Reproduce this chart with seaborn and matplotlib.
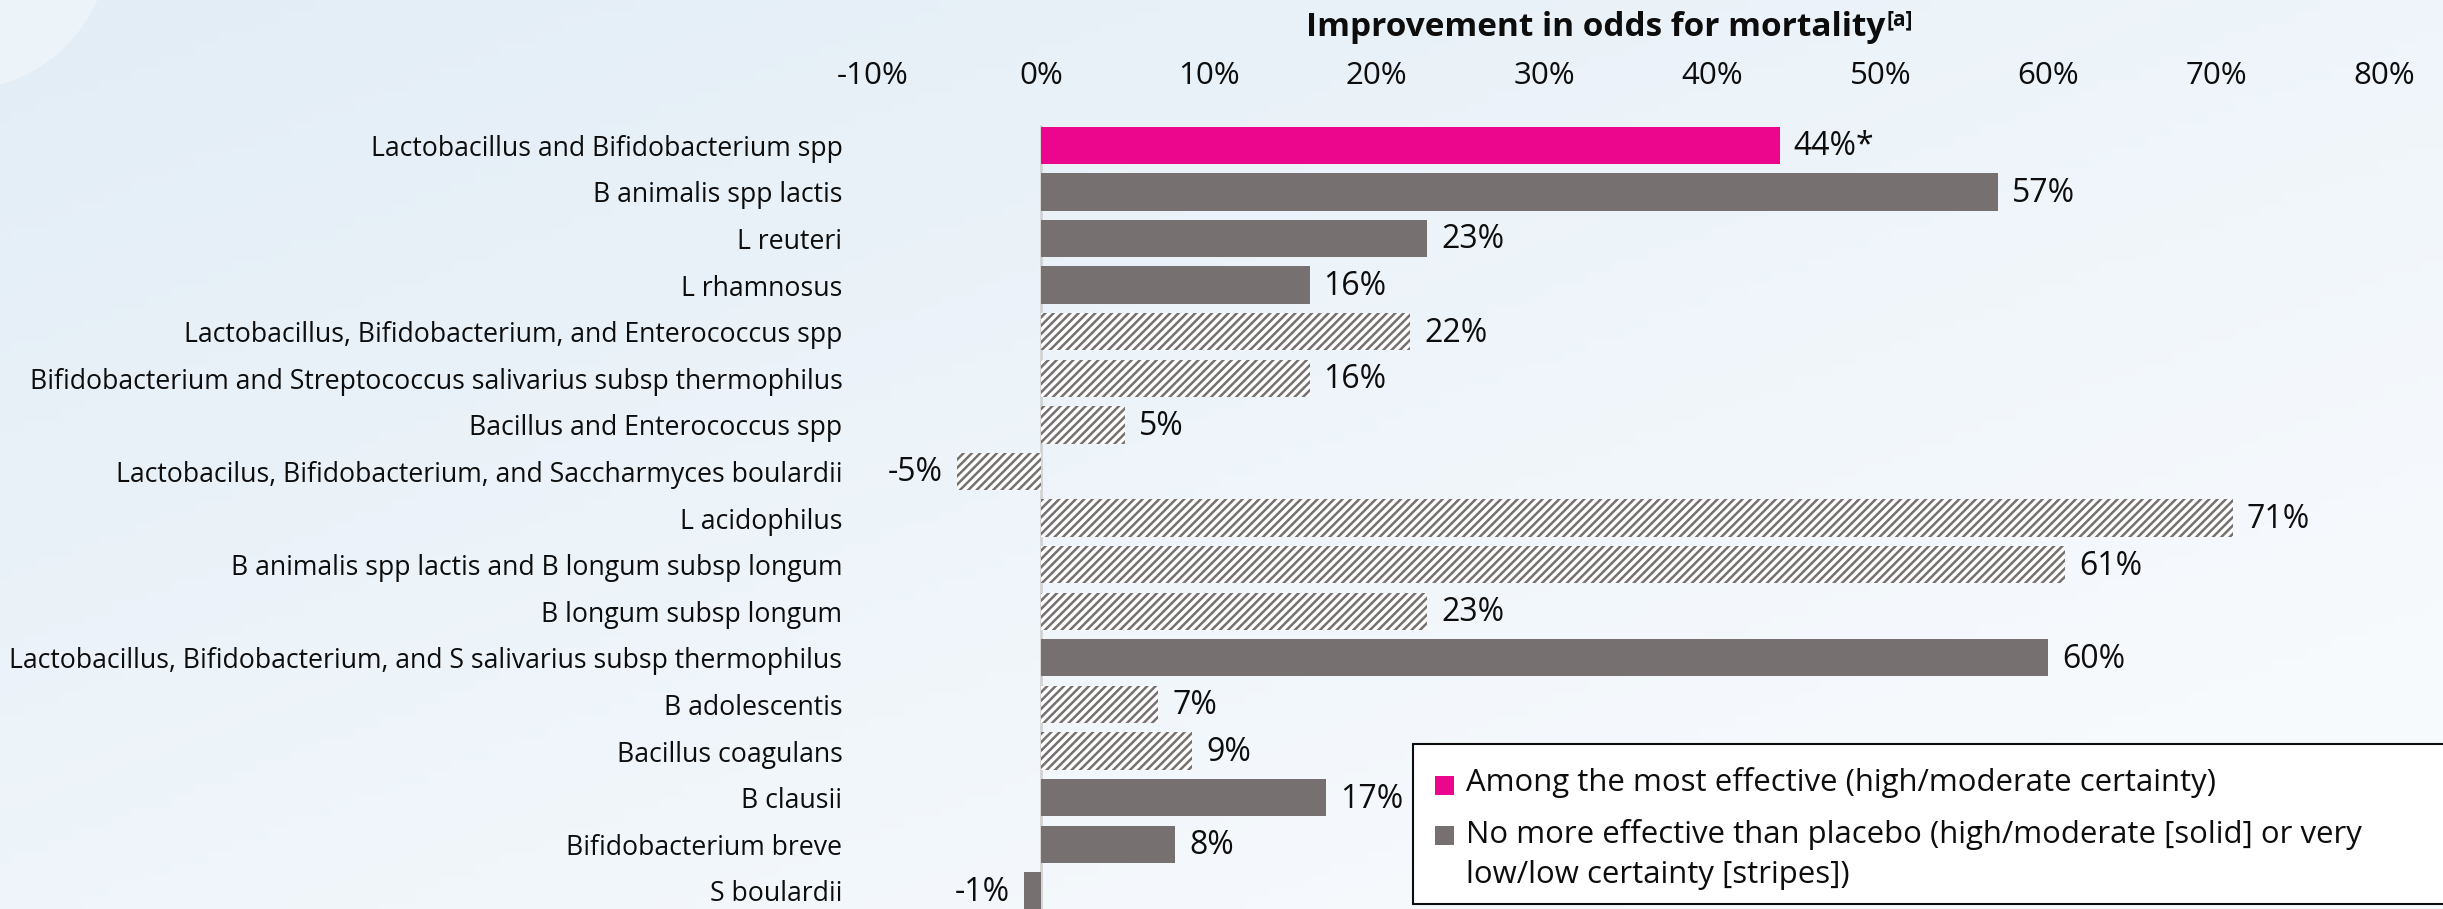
import matplotlib
matplotlib.use("Agg")
import matplotlib.pyplot as plt
import numpy as np
import pandas as pd
import seaborn as sns
from matplotlib.patches import Rectangle, Circle

# data
labels = [
    "Lactobacillus and Bifidobacterium spp",
    "B animalis spp lactis",
    "L reuteri",
    "L rhamnosus",
    "Lactobacillus, Bifidobacterium, and Enterococcus spp",
    "Bifidobacterium and Streptococcus salivarius subsp thermophilus",
    "Bacillus and Enterococcus spp",
    "Lactobacilus, Bifidobacterium, and Saccharmyces boulardii",
    "L acidophilus",
    "B animalis spp lactis and B longum subsp longum",
    "B longum subsp longum",
    "Lactobacillus, Bifidobacterium, and S salivarius subsp thermophilus",
    "B adolescentis",
    "Bacillus coagulans",
    "B clausii",
    "Bifidobacterium breve",
    "S boulardii",
]
values = [44, 57, 23, 16, 22, 16, 5, -5, 71, 61, 23, 60, 7, 9, 17, 8, -1]
effective = [True] + [False] * 16
low_certainty = [False, False, False, False, True, True, True, True, True,
                 True, True, False, True, True, False, False, False]
xticks = [-10, 0, 10, 20, 30, 40, 50, 60, 70, 80]

PINK = "#EC068D"
GRAY = "#767170"
INK = "#0D0D0D"

sns.set_theme(style="white")
plt.rcParams["font.family"] = ["Open Sans", "DejaVu Sans"]
plt.rcParams["hatch.linewidth"] = 1.8

df = pd.DataFrame({"label": labels, "value": values})
colors = [PINK if e else GRAY for e in effective]

W, H = 2443, 909
fig = plt.figure(figsize=(W / 100, H / 100), dpi=100)

# soft background gradient
bg = fig.add_axes([0, 0, 1, 1], zorder=-5)
gx = np.linspace(0, 1, 200)
gy = np.linspace(0, 1, 80)
GX, GY = np.meshgrid(gx, gy)
t = np.clip(0.6 * GX + 0.6 * GY, 0, 1)
c0 = np.array([226, 237, 246]) / 255
c1 = np.array([247, 250, 253]) / 255
img = c0[None, None, :] * (1 - t[..., None]) + c1[None, None, :] * t[..., None]
bg.imshow(img, extent=[0, W, H, 0], aspect="auto")
bg.add_patch(Circle((-40, -60), 150, color="white", alpha=0.35, lw=0))
bg.set_xlim(0, W)
bg.set_ylim(H, 0)
bg.axis("off")

left, right = 873 / W, 2384 / W
top = 1 - 122 / H
ax = fig.add_axes([left, 0, right - left, top])
ax.set_facecolor("none")

sns.barplot(data=df, x="value", y="label", hue="label", palette=colors,
            legend=False, width=0.8, ax=ax, saturation=1)

for p in ax.patches:
    i = int(round(p.get_y() + p.get_height() / 2))
    p.set_linewidth(0)
    if low_certainty[i]:
        p.set_facecolor("white")
        p.set_edgecolor(GRAY)
        p.set_hatch("////")
    v = values[i]
    txt = f"{v}%" + ("*" if effective[i] else "")
    if v >= 0:
        ax.annotate(txt, (v, i), xytext=(10, -1), textcoords="offset points",
                    ha="left", va="center", fontsize=23, color=INK)
    else:
        ax.annotate(txt, (v, i), xytext=(-10, -1), textcoords="offset points",
                    ha="right", va="center", fontsize=23, color=INK)

ylo, yhi = 16.39, -0.5
ax.axvline(0, color="#D3D3D3", lw=2, zorder=0,
           ymax=(ylo - (-0.42)) / (ylo - yhi))
ax.set_xlim(-10, 80)
ax.set_ylim(ylo, yhi)
ax.set_xticks(xticks)
ax.set_xticklabels([f"{x}%" for x in xticks])
ax.xaxis.tick_top()
ax.tick_params(axis="x", length=0, pad=22, labelsize=22.5, colors=INK)
ax.tick_params(axis="y", length=0, pad=22, labelsize=19.2, colors=INK)
ax.set_xlabel("")
ax.set_ylabel("")
for s in ax.spines.values():
    s.set_visible(False)
ax.grid(False)

# title with superscript
title = fig.text(1306 / W, 1 - 27 / H, "Improvement in odds for mortality",
                 ha="left", va="center", fontsize=24, fontweight="bold",
                 color=INK)
ax.annotate("[a]", xy=(1, 1), xycoords=title, xytext=(1, 1),
            textcoords="offset points", ha="left", va="top",
            fontsize=15, fontweight="bold", color=INK)

# legend box
fig.patches.append(Rectangle((1413 / W, 1 - 904 / H), (W + 10 - 1413) / W,
                             (904 - 744) / H, transform=fig.transFigure,
                             facecolor="white", edgecolor=INK, lw=1.5,
                             zorder=5))
for yc, col in [(785, PINK), (835, GRAY)]:
    fig.patches.append(Rectangle((1435 / W, 1 - (yc + 10) / H), 19 / W, 19 / H,
                                 transform=fig.transFigure, facecolor=col,
                                 lw=0, zorder=6))
fig.text(1466 / W, 1 - 783 / H, "Among the most effective (high/moderate certainty)",
         ha="left", va="center", fontsize=22.4, color=INK, zorder=7)
fig.text(1466 / W, 1 - 834 / H,
         "No more effective than placebo (high/moderate [solid] or very",
         ha="left", va="center", fontsize=22.4, color=INK, zorder=7)
fig.text(1466 / W, 1 - 875 / H, "low/low certainty [stripes])",
         ha="left", va="center", fontsize=22.4, color=INK, zorder=7)

fig.savefig("out.png", dpi=100)
